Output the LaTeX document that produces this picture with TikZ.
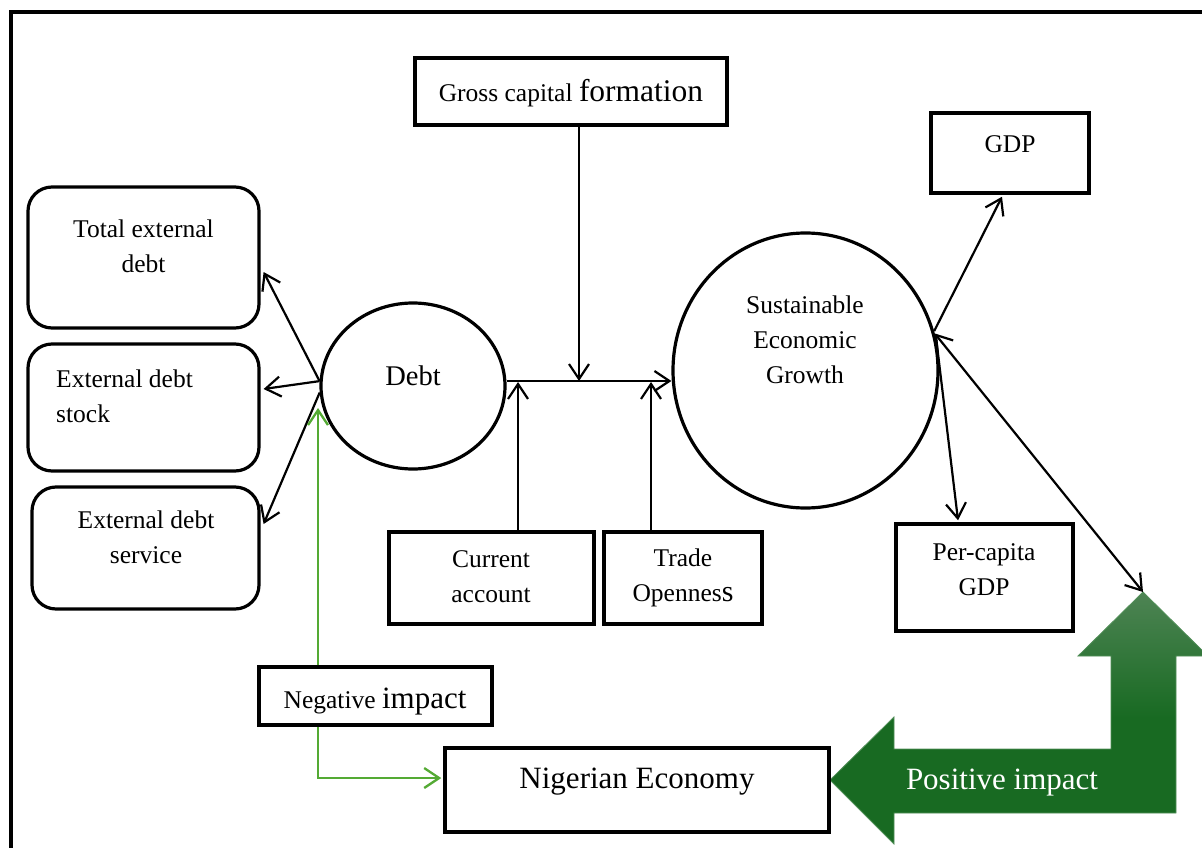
\documentclass[tikz,border=0pt]{standalone}
\usepackage{fontspec}
\setmainfont{Liberation Serif}
\usetikzlibrary{arrows.meta,calc,shapes.geometric}
\definecolor{darkg}{RGB}{24,106,34}
\definecolor{lightg}{RGB}{78,132,84}
\definecolor{lineg}{RGB}{84,170,52}
\pgfdeclareverticalshading{posgrad}{100bp}{color(0bp)=(darkg); color(50bp)=(darkg); color(75bp)=(lightg); color(100bp)=(lightg)}
\begin{document}
\begin{tikzpicture}[x=1pt,y=-1pt,
  box/.style={draw, line width=3.5pt, inner sep=0pt},
  rbox/.style={draw, line width=3.2pt, rounded corners=24pt, inner sep=0pt},
  oval/.style={draw, ellipse, line width=3.2pt, inner sep=0pt},
  txt/.style={font=\fontsize{25.5}{35}\selectfont, align=center, inner sep=0pt},
  big/.style={font=\fontsize{31}{35}\selectfont, inner sep=0pt},
  tip/.tip={Straight Barb[length=15pt,width=20pt]},
  arr/.style={line width=2.2pt, -tip},
  darr/.style={line width=2.2pt, tip-tip},
  garr/.style={line width=2.3pt, draw=lineg, -tip}
]
\useasboundingbox (0,0) rectangle (1202,848);
\draw[line width=4pt] (10.5,12) rectangle (1240,890);

% green arrow
\path[shade, shading=posgrad, draw=darkg!75!white, line width=0.8pt]
  (830,780) -- (894,717) -- (894,749) -- (1111,749) -- (1111,656) -- (1078,656)
  -- (1143,592) -- (1208,656) -- (1176,656) -- (1176,813) -- (894,813) -- (894,844) -- cycle;
\node[big, text=white] (pos) at (1002,783) {Positive impact};
\coordinate (uptip) at (1143,592);

% boxes
\node[box, minimum width=312pt, minimum height=67pt] (gcf) at (571,91.5) {};
\node[txt] (gcft) at (571,93) {Gross capital \fontsize{31.5}{35}\selectfont formation};

\node[box, minimum width=158pt, minimum height=80pt] (gdp) at (1010,153) {};
\node[txt] (gdpt) at (1010,144) {GDP};

\node[rbox, minimum width=231pt, minimum height=141pt] (ted) at (143.5,257.5) {};
\node[txt] (tedt) at (143.5,246) {Total external\\debt};

\node[rbox, minimum width=231pt, minimum height=127pt] (eds) at (143.5,407.5) {};
\node[txt, anchor=west, align=left] (edst) at (56,396) {External debt\\stock};

\node[rbox, minimum width=227pt, minimum height=122pt] (edsv) at (145.5,548) {};
\node[txt] (edsvt) at (146,537) {External debt\\service};

\node[oval, minimum width=184pt, minimum height=166pt] (debt) at (413,386) {};
\node[txt, font=\fontsize{28.5}{35}\selectfont] (debtt) at (413,376) {Debt};

\node[oval, minimum width=265pt, minimum height=275pt] (seg) at (805.5,370.5) {};
\node[txt] (segt) at (805,340) {Sustainable\\Economic\\Growth};

\node[box, minimum width=205pt, minimum height=92pt] (ca) at (491.5,578) {};
\node[txt] (cat) at (491,577) {Current\\account};

\node[box, minimum width=158pt, minimum height=92pt] (to) at (683,578) {};
\node[txt] (tot) at (683,578) {Trade\\Opennes{\fontsize{30}{35}\selectfont s}};

\node[box, minimum width=177pt, minimum height=107pt] (pcg) at (984.5,577.5) {};
\node[txt] (pcgt) at (984,570) {Per-capita\\GDP};

\node[box, minimum width=233pt, minimum height=58pt] (neg) at (375.5,696) {};
\node[txt] (negt) at (375,702) {Negative \fontsize{31}{35}\selectfont impact};

\node[box, minimum width=384pt, minimum height=84pt] (nig) at (637,790) {};
\node[big] (nigt) at (637,782) {Nigerian Economy};

% connectors
\coordinate (jn) at (579,381);
\coordinate (caj) at (518,382);
\coordinate (toj) at (651,382);
\draw[arr] (gcf.south -| jn) -- (jn);
\draw[arr] (debt.east |- jn) -- (seg.west |- jn);
\draw[arr] (ca.north -| caj) -- (caj);
\draw[arr] (to.north -| toj) -- (toj);

\draw[arr] (debt.177) -- ($(ted.east)+(3,14.5)$);
\draw[arr] (debt.177) -- ($(eds.east)+(3,-18.5)$);
\draw[arr] (debt.184) -- ($(edsv.east)+(3,-24)$);

\draw[arr] (seg.17) -- ($(gdp.south)+(-8,2)$);
\draw[darr] (seg.16) -- (uptip);
\draw[arr] (seg.13) -- ($(pcg.north)+(-26.5,-2)$);

\coordinate (gtip) at (318,408);
\draw[garr] ($(neg.north)+(-57.5,0)$) -- (gtip);
\draw[garr] ($(neg.south)+(-57.5,0)$) |- ($(nig.west)+(-2,-12)$);
\end{tikzpicture}
\end{document}
